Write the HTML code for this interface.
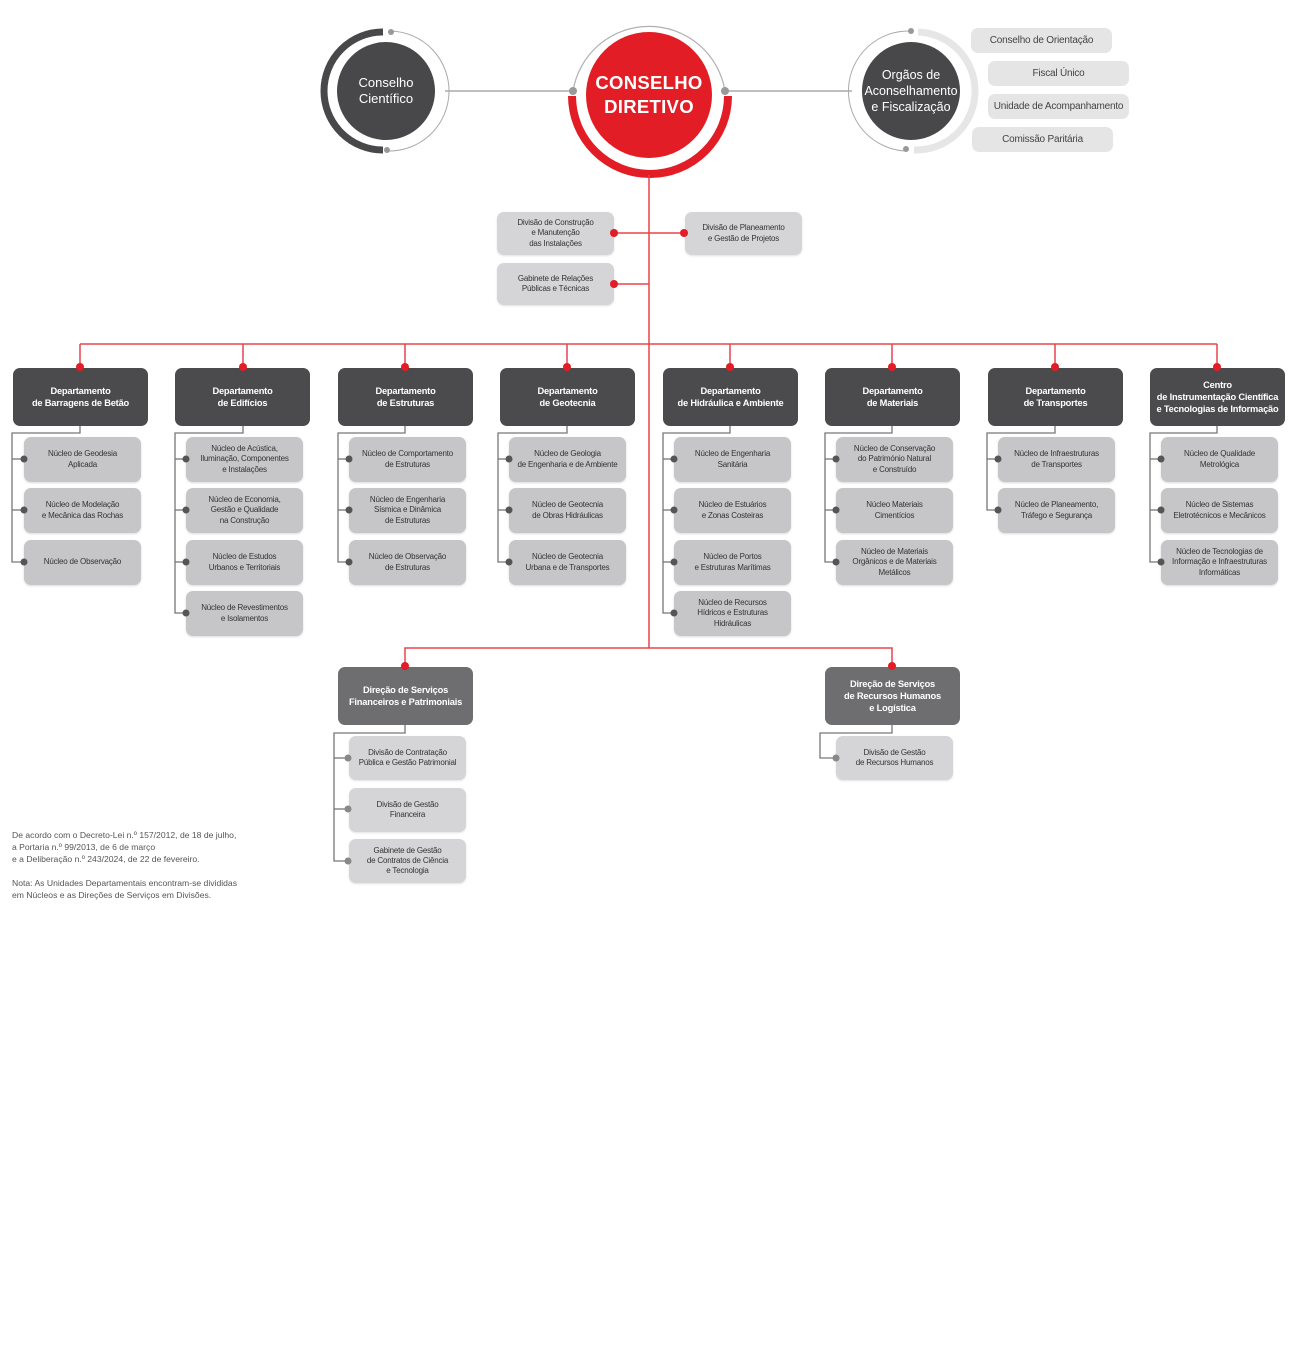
<!DOCTYPE html>
<html><head><meta charset="utf-8"><style>
*{margin:0;padding:0;box-sizing:border-box}
body{width:1300px;height:1345px;background:#fff;position:relative;overflow:hidden;font-family:"Liberation Sans",sans-serif}
svg{position:absolute;left:0;top:0}
.b{position:absolute;display:flex;align-items:center;justify-content:center;text-align:center;border-radius:7px;letter-spacing:-0.2px}
.n{background:#c6c6c8;color:#333;font-size:8px;line-height:10.3px;width:117px;height:45px;box-shadow:0 1px 2px rgba(0,0,0,.15)}
.d{background:#4b4b4d;color:#fff;font-size:9.3px;font-weight:bold;line-height:12px;width:135px;height:58px}
.g{background:#6e6e70;color:#fff;font-size:9.3px;font-weight:bold;line-height:12px;width:135px;height:58px}
.v{background:#d5d5d7;color:#333;font-size:8px;line-height:10.3px;width:117px;height:44px;box-shadow:0 1px 2px rgba(0,0,0,.12)}
.r{background:#e5e5e6;color:#444;font-size:10px;border-radius:7px;height:25px;width:141px}
.c{position:absolute;color:#fff;text-align:center;display:flex;align-items:center;justify-content:center}
.note{position:absolute;left:12px;font-size:8.6px;line-height:12px;color:#555}
</style></head><body>
<svg width="1300" height="1345">
<line x1="445" y1="91" x2="573" y2="91" stroke="#999" stroke-width="1.3"/>
<line x1="725" y1="91" x2="852" y2="91" stroke="#999" stroke-width="1.3"/>
<path d="M391 31 A60 60 0 0 1 387 151" fill="none" stroke="#aaa" stroke-width="1"/>
<path d="M383 32 A59 59 0 0 0 383 150" fill="none" stroke="#48484a" stroke-width="7"/>
<circle cx="386" cy="91" r="49" fill="#48484a"/>
<circle cx="391" cy="32" r="3" fill="#999"/><circle cx="387" cy="150" r="3" fill="#999"/>
<path d="M911 31 A60 60 0 0 0 906 151" fill="none" stroke="#aaa" stroke-width="1"/>
<path d="M918 32 A59 59 0 0 1 914 150" fill="none" stroke="#e6e6e7" stroke-width="7"/>
<circle cx="911" cy="91" r="49" fill="#48484a"/>
<circle cx="911" cy="31" r="3" fill="#999"/><circle cx="906" cy="149" r="3" fill="#999"/>
<path d="M573 91 A77 77 0 0 1 725 91" fill="none" stroke="#b0b0b0" stroke-width="1.2"/>
<path d="M572 96 A78 78 0 0 0 728 96" fill="none" stroke="#e21d25" stroke-width="8"/>
<circle cx="649" cy="95" r="63" fill="#e21d25"/>
<circle cx="573" cy="91" r="4" fill="#999"/><circle cx="725" cy="91" r="4" fill="#999"/>
<g stroke="#e8434c" stroke-width="1.5" fill="none">
<line x1="649" y1="175" x2="649" y2="648"/>
<line x1="614" y1="233" x2="685" y2="233"/>
<line x1="614" y1="284" x2="649" y2="284"/>
<line x1="80" y1="344" x2="1217" y2="344"/>
<line x1="80" y1="344" x2="80" y2="367"/><line x1="243" y1="344" x2="243" y2="367"/>
<line x1="405" y1="344" x2="405" y2="367"/><line x1="567" y1="344" x2="567" y2="367"/>
<line x1="730" y1="344" x2="730" y2="367"/><line x1="892" y1="344" x2="892" y2="367"/>
<line x1="1055" y1="344" x2="1055" y2="367"/><line x1="1217" y1="344" x2="1217" y2="367"/>
<polyline points="405,666 405,648 892,648 892,666"/>
</g>
<g stroke="#777" stroke-width="1.3" fill="none">
<polyline points="80,425 80,433 12,433 12,562 24,562"/><line x1="12" y1="459" x2="24" y2="459"/><line x1="12" y1="510" x2="24" y2="510"/>
<polyline points="243,425 243,433 175,433 175,613 186,613"/><line x1="175" y1="459" x2="186" y2="459"/><line x1="175" y1="510" x2="186" y2="510"/><line x1="175" y1="562" x2="186" y2="562"/>
<polyline points="405,425 405,433 338,433 338,562 349,562"/><line x1="338" y1="459" x2="349" y2="459"/><line x1="338" y1="510" x2="349" y2="510"/>
<polyline points="567,425 567,433 498,433 498,562 509,562"/><line x1="498" y1="459" x2="509" y2="459"/><line x1="498" y1="510" x2="509" y2="510"/>
<polyline points="730,425 730,433 663,433 663,613 674,613"/><line x1="663" y1="459" x2="674" y2="459"/><line x1="663" y1="510" x2="674" y2="510"/><line x1="663" y1="562" x2="674" y2="562"/>
<polyline points="892,425 892,433 825,433 825,562 836,562"/><line x1="825" y1="459" x2="836" y2="459"/><line x1="825" y1="510" x2="836" y2="510"/>
<polyline points="1055,425 1055,433 987,433 987,510 998,510"/><line x1="987" y1="459" x2="998" y2="459"/>
<polyline points="1217,425 1217,433 1150,433 1150,562 1161,562"/><line x1="1150" y1="459" x2="1161" y2="459"/><line x1="1150" y1="510" x2="1161" y2="510"/>
<polyline points="405,724 405,733 334,733 334,861 348,861"/><line x1="334" y1="758" x2="348" y2="758"/><line x1="334" y1="809" x2="348" y2="809"/>
<polyline points="892,724 892,733 820,733 820,758 836,758"/>
</g>
</svg>

<div class="c" style="left:338px;top:60px;width:96px;height:62px;font-size:13px;line-height:16px">Conselho<br>Científico</div>
<div class="c" style="left:580px;top:62px;width:138px;height:66px;font-size:18.5px;font-weight:bold;line-height:24px;letter-spacing:0.3px">CONSELHO<br>DIRETIVO</div>
<div class="c" style="left:858px;top:60px;width:106px;height:62px;font-size:12.5px;line-height:16px">Orgãos de<br>Aconselhamento<br>e Fiscalização</div>

<div class="b r" style="left:971px;top:28px">Conselho de Orientação</div>
<div class="b r" style="left:988px;top:61px">Fiscal Único</div>
<div class="b r" style="left:988px;top:94px">Unidade de Acompanhamento</div>
<div class="b r" style="left:972px;top:127px">Comissão Paritária</div>

<div class="b v" style="left:497px;top:212px;height:43px">Divisão de Construção<br>e Manutenção<br>das Instalações</div>
<div class="b v" style="left:685px;top:212px;height:43px">Divisão de Planeamento<br>e Gestão de Projetos</div>
<div class="b v" style="left:497px;top:263px;height:42px">Gabinete de Relações<br>Públicas e Técnicas</div>

<div class="b d" style="left:13px;top:368px">Departamento<br>de Barragens de Betão</div>
<div class="b d" style="left:175px;top:368px">Departamento<br>de Edifícios</div>
<div class="b d" style="left:338px;top:368px">Departamento<br>de Estruturas</div>
<div class="b d" style="left:500px;top:368px">Departamento<br>de Geotecnia</div>
<div class="b d" style="left:663px;top:368px">Departamento<br>de Hidráulica e Ambiente</div>
<div class="b d" style="left:825px;top:368px">Departamento<br>de Materiais</div>
<div class="b d" style="left:988px;top:368px">Departamento<br>de Transportes</div>
<div class="b d" style="left:1150px;top:368px">Centro<br>de Instrumentação Científica<br>e Tecnologias de Informação</div>

<div class="b n" style="left:24px;top:437px">Núcleo de Geodesia<br>Aplicada</div>
<div class="b n" style="left:24px;top:488px">Núcleo de Modelação<br>e Mecânica das Rochas</div>
<div class="b n" style="left:24px;top:540px">Núcleo de Observação</div>

<div class="b n" style="left:186px;top:437px">Núcleo de Acústica,<br>Iluminação, Componentes<br>e Instalações</div>
<div class="b n" style="left:186px;top:488px">Núcleo de Economia,<br>Gestão e Qualidade<br>na Construção</div>
<div class="b n" style="left:186px;top:540px">Núcleo de Estudos<br>Urbanos e Territoriais</div>
<div class="b n" style="left:186px;top:591px">Núcleo de Revestimentos<br>e Isolamentos</div>

<div class="b n" style="left:349px;top:437px">Núcleo de Comportamento<br>de Estruturas</div>
<div class="b n" style="left:349px;top:488px">Núcleo de Engenharia<br>Sísmica e Dinâmica<br>de Estruturas</div>
<div class="b n" style="left:349px;top:540px">Núcleo de Observação<br>de Estruturas</div>

<div class="b n" style="left:509px;top:437px">Núcleo de Geologia<br>de Engenharia e de Ambiente</div>
<div class="b n" style="left:509px;top:488px">Núcleo de Geotecnia<br>de Obras Hidráulicas</div>
<div class="b n" style="left:509px;top:540px">Núcleo de Geotecnia<br>Urbana e de Transportes</div>

<div class="b n" style="left:674px;top:437px">Núcleo de Engenharia<br>Sanitária</div>
<div class="b n" style="left:674px;top:488px">Núcleo de Estuários<br>e Zonas Costeiras</div>
<div class="b n" style="left:674px;top:540px">Núcleo de Portos<br>e Estruturas Marítimas</div>
<div class="b n" style="left:674px;top:591px">Núcleo de Recursos<br>Hídricos e Estruturas<br>Hidráulicas</div>

<div class="b n" style="left:836px;top:437px">Núcleo de Conservação<br>do Património Natural<br>e Construído</div>
<div class="b n" style="left:836px;top:488px">Núcleo Materiais<br>Cimentícios</div>
<div class="b n" style="left:836px;top:540px">Núcleo de Materiais<br>Orgânicos e de Materiais<br>Metálicos</div>

<div class="b n" style="left:998px;top:437px">Núcleo de Infraestruturas<br>de Transportes</div>
<div class="b n" style="left:998px;top:488px">Núcleo de Planeamento,<br>Tráfego e Segurança</div>

<div class="b n" style="left:1161px;top:437px">Núcleo de Qualidade<br>Metrológica</div>
<div class="b n" style="left:1161px;top:488px">Núcleo de Sistemas<br>Eletrotécnicos e Mecânicos</div>
<div class="b n" style="left:1161px;top:540px">Núcleo de Tecnologias de<br>Informação e Infraestruturas<br>Informáticas</div>

<div class="b g" style="left:338px;top:667px">Direção de Serviços<br>Financeiros e Patrimoniais</div>
<div class="b g" style="left:825px;top:667px">Direção de Serviços<br>de Recursos Humanos<br>e Logística</div>

<div class="b v" style="left:349px;top:736px">Divisão de Contratação<br>Pública e Gestão Patrimonial</div>
<div class="b v" style="left:349px;top:788px">Divisão de Gestão<br>Financeira</div>
<div class="b v" style="left:349px;top:839px">Gabinete de Gestão<br>de Contratos de Ciência<br>e Tecnologia</div>
<div class="b v" style="left:836px;top:736px">Divisão de Gestão<br>de Recursos Humanos</div>

<div class="note" style="top:829px">De acordo com o Decreto-Lei n.º 157/2012, de 18 de julho,<br>a Portaria n.º 99/2013, de 6 de março<br>e a Deliberação n.º 243/2024, de 22 de fevereiro.</div>
<div class="note" style="top:877px">Nota: As Unidades Departamentais encontram-se divididas<br>em Núcleos e as Direções de Serviços em Divisões.</div>

<svg width="1300" height="1345" style="pointer-events:none">
<g fill="#e21d25">
<circle cx="614" cy="233" r="4"/><circle cx="684" cy="233" r="4"/><circle cx="614" cy="284" r="4"/>
<circle cx="80" cy="367" r="4"/><circle cx="243" cy="367" r="4"/><circle cx="405" cy="367" r="4"/><circle cx="567" cy="367" r="4"/>
<circle cx="730" cy="367" r="4"/><circle cx="892" cy="367" r="4"/><circle cx="1055" cy="367" r="4"/><circle cx="1217" cy="367" r="4"/>
<circle cx="405" cy="666" r="4"/><circle cx="892" cy="666" r="4"/>
</g>
<g fill="#555">
<circle cx="24" cy="459" r="3.5"/><circle cx="24" cy="510" r="3.5"/><circle cx="24" cy="562" r="3.5"/>
<circle cx="186" cy="459" r="3.5"/><circle cx="186" cy="510" r="3.5"/><circle cx="186" cy="562" r="3.5"/><circle cx="186" cy="613" r="3.5"/>
<circle cx="349" cy="459" r="3.5"/><circle cx="349" cy="510" r="3.5"/><circle cx="349" cy="562" r="3.5"/>
<circle cx="509" cy="459" r="3.5"/><circle cx="509" cy="510" r="3.5"/><circle cx="509" cy="562" r="3.5"/>
<circle cx="674" cy="459" r="3.5"/><circle cx="674" cy="510" r="3.5"/><circle cx="674" cy="562" r="3.5"/><circle cx="674" cy="613" r="3.5"/>
<circle cx="836" cy="459" r="3.5"/><circle cx="836" cy="510" r="3.5"/><circle cx="836" cy="562" r="3.5"/>
<circle cx="998" cy="459" r="3.5"/><circle cx="998" cy="510" r="3.5"/>
<circle cx="1161" cy="459" r="3.5"/><circle cx="1161" cy="510" r="3.5"/><circle cx="1161" cy="562" r="3.5"/>
</g>
<g fill="#888">
<circle cx="348" cy="758" r="3.5"/><circle cx="348" cy="809" r="3.5"/><circle cx="348" cy="861" r="3.5"/><circle cx="836" cy="758" r="3.5"/>
</g>
</svg>
</body></html>
